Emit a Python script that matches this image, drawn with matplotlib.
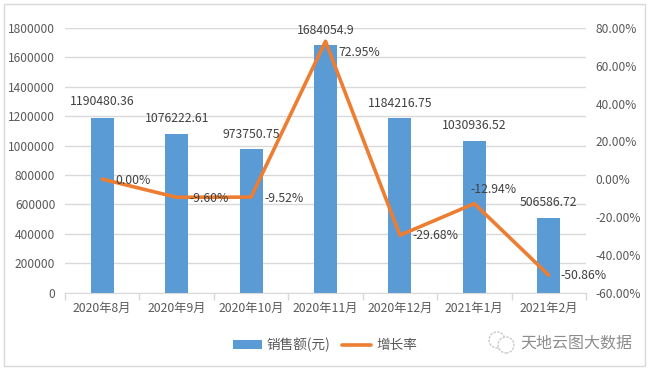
import matplotlib
matplotlib.use("Agg")
import matplotlib.pyplot as plt
import matplotlib.patches as mpatches
from matplotlib.ticker import ScalarFormatter
import numpy as np

plt.rcParams["font.family"] = ["Noto Sans CJK SC", "DejaVu Sans"]

months = ["2020年8月", "2020年9月", "2020年10月", "2020年11月",
          "2020年12月", "2021年1月", "2021年2月"]
sales = [1190480.36, 1076222.61, 973750.75, 1684054.9,
         1184216.75, 1030936.52, 506586.72]
growth = [0.00, -9.60, -9.52, 72.95, -29.68, -12.94, -50.86]
sales_labels = ["1190480.36", "1076222.61", "973750.75", "1684054.9",
                "1184216.75", "1030936.52", "506586.72"]
growth_labels = ["0.00%", "-9.60%", "-9.52%", "72.95%",
                 "-29.68%", "-12.94%", "-50.86%"]
sales_ticks = [0, 200000, 400000, 600000, 800000, 1000000,
               1200000, 1400000, 1600000, 1800000]
growth_ticks = [-60, -40, -20, 0, 20, 40, 60, 80]

W, H = 652, 371
LEFT, RIGHT, TOP, BOTTOM = 65, 586, 28, 292.5
TEXT = "#595959"
GRID = "#d9d9d9"
BLUE = "#5b9bd5"
ORANGE = "#ed7d31"

# label offsets from the mark, in pixels
sales_off = [(0, 16), (0, 16), (0, 15), (0, 15), (0, 15), (0, 16), (0, 16)]
growth_off = [(31, -1), (32, -1), (33, -1), (34, -11), (36, 0), (19, 14), (35, 0)]

fig = plt.figure(figsize=(W / 100, H / 100), dpi=100)
ax = fig.add_axes([LEFT / W, 1 - BOTTOM / H, (RIGHT - LEFT) / W, (BOTTOM - TOP) / H])
ax.set_facecolor("none")

x = np.arange(len(months))
bars = ax.bar(x, sales, width=0.31, color=BLUE, zorder=2, label="销售额(元)")
ax.set_xlim(-0.5, 6.5)
ax.set_ylim(0, 1800000)
ax.set_yticks(sales_ticks)
ax.yaxis.set_major_formatter(ScalarFormatter(useOffset=False))
ax.ticklabel_format(axis="y", style="plain")
ax.set_xticks(x)
ax.set_xticklabels(months)
ax.set_xticks(np.arange(-0.5, 7), minor=True)
ax.tick_params(axis="x", which="major", length=0, pad=7, labelsize=8.8, labelcolor=TEXT)
ax.tick_params(axis="x", which="minor", length=5, width=1, color=GRID)
ax.tick_params(axis="y", length=0, pad=7, labelsize=8.6, labelcolor=TEXT)
ax.grid(axis="y", color=GRID, lw=1, zorder=0)
ax.set_axisbelow(True)
for name in ["top", "left", "right"]:
    ax.spines[name].set_visible(False)
ax.spines["bottom"].set_color(GRID)

ax2 = ax.twinx()
ax2.set_facecolor("none")
line, = ax2.plot(x, growth, color=ORANGE, lw=2.6, solid_capstyle="round",
                 solid_joinstyle="round", zorder=3, label="增长率")
ax2.set_ylim(-60, 80)
ax2.set_yticks(growth_ticks)
ax2.set_yticklabels([f"{t:.2f}%" for t in growth_ticks])
ax2.tick_params(axis="y", length=0, pad=7, labelsize=8.6, labelcolor=TEXT)
for spine in ax2.spines.values():
    spine.set_visible(False)

# everything is annotated on ax2 so the labels sit over the line
bar_trans = ax.transData
for i in x:
    ax2.annotate(sales_labels[i], xy=(i, sales[i]), xycoords=bar_trans,
                 xytext=(sales_off[i][0] * 0.72, sales_off[i][1] * 0.72),
                 textcoords="offset points", ha="center", va="center",
                 fontsize=8.8, color="#404040", zorder=5)
    ax2.annotate(growth_labels[i], xy=(i, growth[i]),
                 xytext=(growth_off[i][0] * 0.72, growth_off[i][1] * 0.72),
                 textcoords="offset points", ha="center", va="center",
                 fontsize=8.8, color="#404040", zorder=5)

fig.legend(handles=[bars, line], labels=["销售额(元)", "增长率"], loc="center",
           bbox_to_anchor=(325 / W, 1 - 345 / H), ncol=2, frameon=False,
           fontsize=9.8, labelcolor=TEXT, handlelength=2.15, columnspacing=0.85,
           handletextpad=0.35)

# chart frame
fig.add_artist(mpatches.Rectangle((4 / W, 1 - 366 / H), 641 / W, 362 / H,
                                  transform=fig.transFigure, fill=False,
                                  ec=GRID, lw=1))

# watermark: chat bubbles and account name
for cx, cy, r in [(497, 340, 8), (506, 345, 8)]:
    fig.add_artist(mpatches.Ellipse((cx / W, 1 - cy / H), 2 * r / W, 2 * r / H,
                                    transform=fig.transFigure, fill=True, fc="white",
                                    ec="#c4c4c4", lw=0.9, ls=(0, (2, 1))))
fig.text(576 / W, 1 - 343 / H, "天地云图大数据", ha="center", va="center",
         fontsize=11.5, color="#8c8c8c")

fig.savefig("out.png", dpi=100)
plt.close()
